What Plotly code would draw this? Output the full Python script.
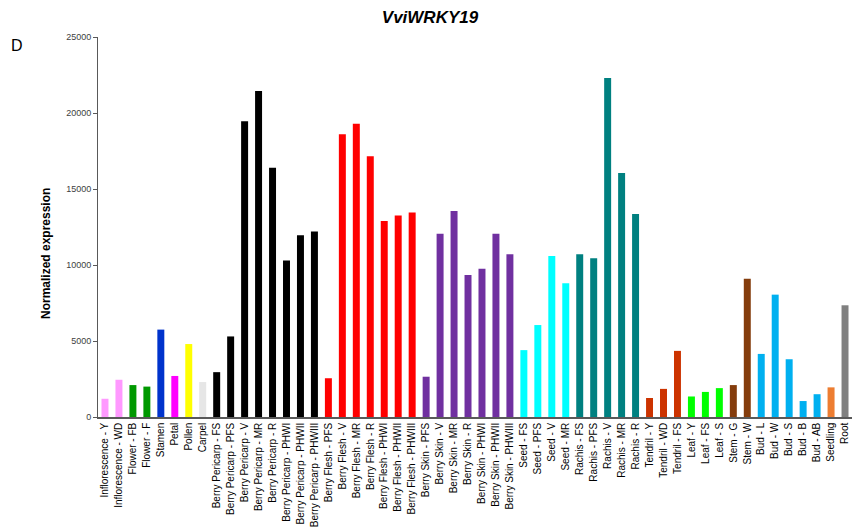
import plotly.graph_objects as go

# Tissue / developmental stage labels
samples = [
    "Inflorescence - Y", "Inflorescence - WD", "Flower - FB", "Flower - F",
    "Stamen", "Petal", "Pollen", "Carpel",
    "Berry Pericarp - FS", "Berry Pericarp - PFS", "Berry Pericarp - V",
    "Berry Pericarp - MR", "Berry Pericarp - R", "Berry Pericarp - PHWI",
    "Berry Pericarp - PHWII", "Berry Pericarp - PHWIII",
    "Berry Flesh - PFS", "Berry Flesh - V", "Berry Flesh - MR", "Berry Flesh - R",
    "Berry Flesh - PHWI", "Berry Flesh - PHWII", "Berry Flesh - PHWIII",
    "Berry Skin - PFS", "Berry Skin - V", "Berry Skin - MR", "Berry Skin - R",
    "Berry Skin - PHWI", "Berry Skin - PHWII", "Berry Skin - PHWIII",
    "Seed - FS", "Seed - PFS", "Seed - V", "Seed - MR",
    "Rachis - FS", "Rachis - PFS", "Rachis - V", "Rachis - MR", "Rachis - R",
    "Tendril - Y", "Tendril - WD", "Tendril - FS",
    "Leaf - Y", "Leaf - FS", "Leaf - S",
    "Stem - G", "Stem - W",
    "Bud - L", "Bud - W", "Bud - S", "Bud - B", "Bud - AB",
    "Seedling", "Root",
]

# Normalized expression of VviWRKY19
expression = [
    1200, 2450, 2100, 2000,
    5750, 2700, 4800, 2300,
    2950, 5300, 19450, 21450, 16400, 10300, 11950, 12200,
    2550, 18600, 19300, 17150, 12900, 13250, 13450,
    2650, 12050, 13550, 9350, 9750, 12050, 10700,
    4400, 6050, 10600, 8800,
    10700, 10450, 22300, 16050, 13350,
    1250, 1850, 4350,
    1350, 1650, 1900,
    2100, 9100,
    4150, 8050, 3800, 1050, 1500,
    1950, 7350,
]

# Organ group of each sample (controls bar colour)
groups = (
    ["Inflorescence"] * 2 + ["Flower"] * 2 + ["Stamen", "Petal", "Pollen", "Carpel"]
    + ["Berry Pericarp"] * 8 + ["Berry Flesh"] * 7 + ["Berry Skin"] * 7
    + ["Seed"] * 4 + ["Rachis"] * 5 + ["Tendril"] * 3 + ["Leaf"] * 3
    + ["Stem"] * 2 + ["Bud"] * 5 + ["Seedling", "Root"]
)

group_colors = {
    "Inflorescence": "#FF99FF",
    "Flower": "#009900",
    "Stamen": "#0033CC",
    "Petal": "#FF00FF",
    "Pollen": "#FFFF00",
    "Carpel": "#E6E6E6",
    "Berry Pericarp": "#000000",
    "Berry Flesh": "#FF0000",
    "Berry Skin": "#7030A0",
    "Seed": "#00FFFF",
    "Rachis": "#008080",
    "Tendril": "#CC3300",
    "Leaf": "#00FF00",
    "Stem": "#843C0C",
    "Bud": "#00B0F0",
    "Seedling": "#ED7D31",
    "Root": "#808080",
}

W, H = 856, 531
L, R, T, B = 97.7, 3.7, 37, 114.3
plot_w = W - L - R
plot_h = H - T - B

FONT = "Liberation Sans"

fig = go.Figure(
    go.Bar(
        x=samples,
        y=expression,
        width=0.5,
        marker=dict(color=[group_colors[g] for g in groups], line=dict(width=0)),
    )
)

def px_x(px):
    return (px - L) / plot_w

def px_y(py):
    return (H - B - py) / plot_h

fig.update_layout(
    width=W,
    height=H,
    margin=dict(l=L, r=R, t=T, b=B, pad=0),
    paper_bgcolor="white",
    plot_bgcolor="white",
    showlegend=False,
    bargap=0.5,
    font=dict(family=FONT, color="#000000"),
    title=dict(
        text="<b><i>VviWRKY19</i></b>",
        x=430 / W,
        xref="container",
        xanchor="center",
        y=1 - 17 / H,
        yref="container",
        yanchor="middle",
        font=dict(family=FONT, size=17, color="#000000"),
    ),
    xaxis=dict(
        type="category",
        tickangle=-90,
        tickfont=dict(family=FONT, size=10, color="#000000"),
        showline=True,
        linecolor="#595959",
        linewidth=1.5,
        ticks="",
        showgrid=False,
        range=[-0.5, len(samples) - 0.5],
        fixedrange=True,
    ),
    yaxis=dict(
        range=[0, 25000],
        tickvals=[0, 5000, 10000, 15000, 20000, 25000],
        ticktext=["0", "5000", "10000", "15000", "20000", "25000"],
        tickfont=dict(family=FONT, size=9, color="#404040"),
        showline=True,
        linecolor="#595959",
        linewidth=1,
        ticks="outside",
        ticklen=4,
        tickcolor="#595959",
        showgrid=False,
        zeroline=False,
        fixedrange=True,
    ),
    annotations=[
        dict(
            text="<b>Normalized expression</b>",
            x=px_x(45.5),
            y=px_y(253),
            xref="paper",
            yref="paper",
            textangle=-90,
            showarrow=False,
            xanchor="center",
            yanchor="middle",
            font=dict(family=FONT, size=12, color="#000000"),
        ),
        dict(
            text="D",
            x=px_x(9),
            y=px_y(45),
            xref="paper",
            yref="paper",
            showarrow=False,
            xanchor="left",
            yanchor="middle",
            font=dict(family=FONT, size=16, color="#000000"),
        ),
    ],
)

fig.write_html("out.html")
